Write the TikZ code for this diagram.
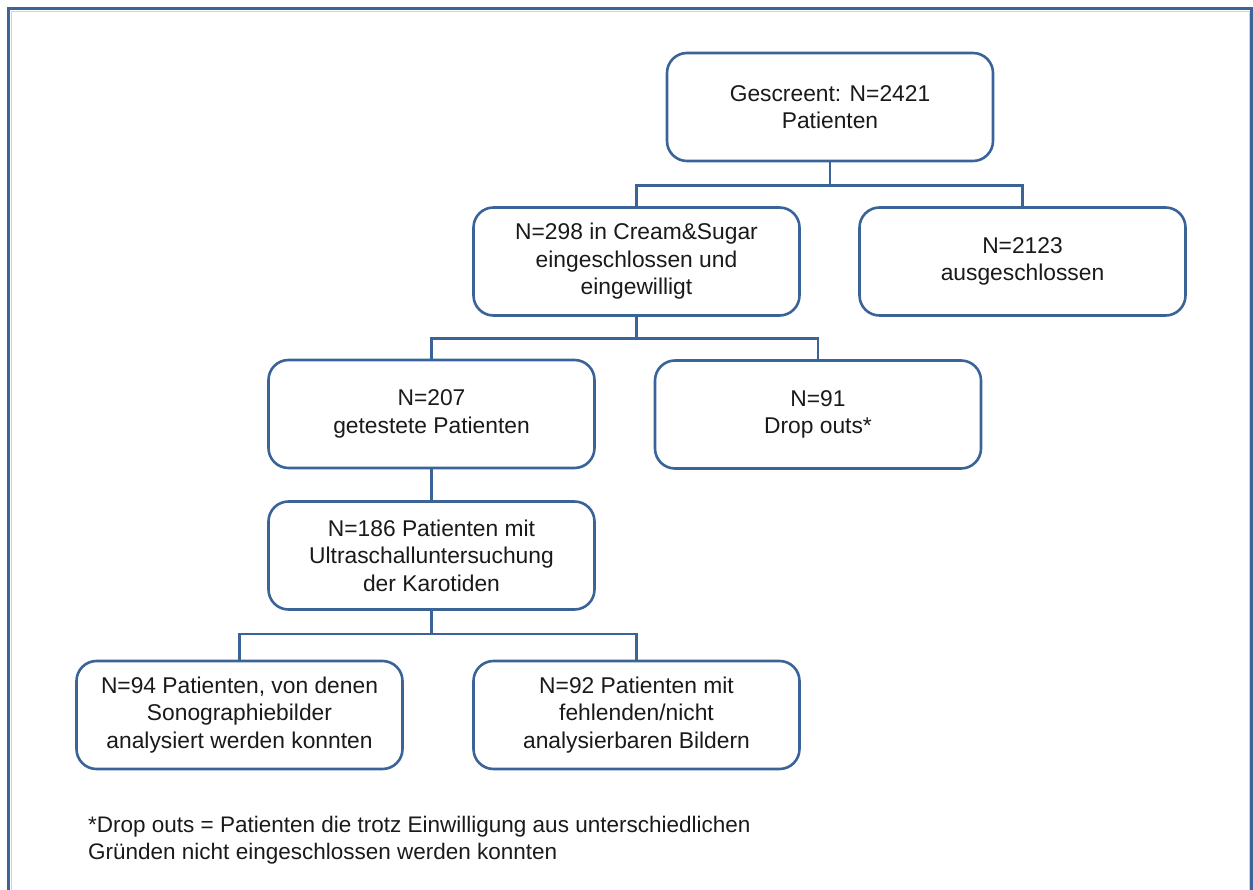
\documentclass[tikz,border=0pt]{standalone}
\usepackage{fontspec}
\setmainfont{Liberation Sans}
\definecolor{frameblue}{HTML}{3D6499}
\definecolor{lightblue}{HTML}{C9D6EA}
\definecolor{boxblue}{HTML}{3A6498}
\definecolor{txt}{HTML}{1A1A1A}
\begin{document}
\begin{tikzpicture}[x=1pt,y=-1pt,
  box/.style={draw=boxblue, line width=2.6pt, rounded corners=20pt, fill=white,
    minimum width=326pt, minimum height=108pt, align=center, text=txt,
    font=\fontsize{22.8}{27.5}\selectfont, inner sep=0pt},
  conn/.style={draw=boxblue, line width=2.6pt}]
\useasboundingbox (0,0) rectangle (1253,890);
\begin{scope}
\clip (0,0) rectangle (1253,890);
\draw[lightblue, line width=1pt] (11.5,12) rectangle (1249.5,900);
\draw[frameblue, line width=3pt] (8.5,9) rectangle (1251.5,905);
\end{scope}
\node[box] (scr) at (830,107) {Gescreent: N=2421\\Patienten};
\node[box] (inc) at (636.5,261.5) {N=298 in Cream\&Sugar\\eingeschlossen und\\eingewilligt};
\node[box] (exc) at (1022.5,261.5) {N=2123\\ausgeschlossen};
\node[box] (tst) at (431.5,414) {N=207\\getestete Patienten};
\node[box] (drp) at (818,414.5) {N=91\\Drop outs*};
\node[box] (ult) at (431.5,555.5) {N=186 Patienten mit\\Ultraschalluntersuchung\\der Karotiden};
\node[box] (ana) at (239.5,715) {N=94 Patienten, von denen\\Sonographiebilder\\analysiert werden konnten};
\node[box] (mis) at (636.5,715) {N=92 Patienten mit\\fehlenden/nicht\\analysierbaren Bildern};
\draw[conn] (scr.south) -- ++(0,23) -| (inc.north);
\draw[conn] (scr.south) -- ++(0,23) -| (exc.north);
\draw[conn] (inc.south) -- ++(0,22) -| (tst.north);
\draw[conn] (inc.south) -- ++(0,22) -| (drp.north);
\draw[conn] (tst.south) -- (ult.north);
\draw[conn] (ult.south) -- ++(0,23) -| (ana.north);
\draw[conn] (ult.south) -- ++(0,23) -| (mis.north);
\node[anchor=north west, align=left, text=txt, inner sep=0pt,
  font=\fontsize{22.5}{27}\selectfont] (note) at (88,816)
  {*Drop outs = Patienten die trotz Einwilligung aus unterschiedlichen\\Gründen nicht eingeschlossen werden konnten};
\end{tikzpicture}
\end{document}
